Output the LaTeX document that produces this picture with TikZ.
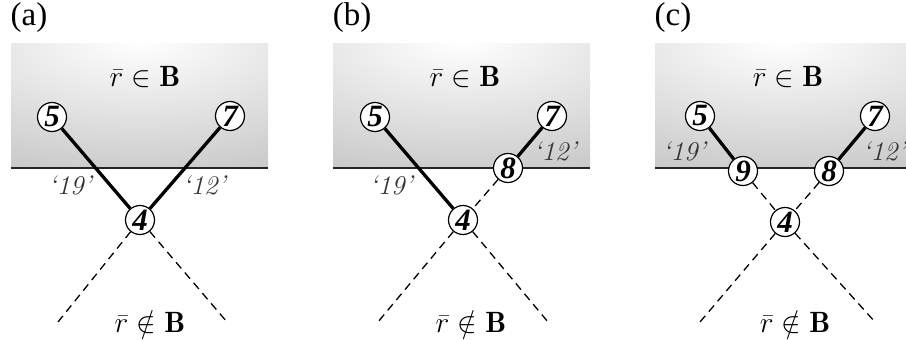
\documentclass[tikz,border=0pt]{standalone}
\usepackage{fontspec}
\newfontfamily\timesf{Liberation Serif}
\newcommand{\bigmath}[1]{\scalebox{1.18}{$#1$}}
\begin{document}
\begin{tikzpicture}[x=1pt,y=-1pt,
  nd/.style={circle,draw=black,line width=1.2pt,fill=white,inner sep=0pt,minimum size=29pt,
     font=\timesf\bfseries\itshape\fontsize{31}{31}\selectfont},
  solidln/.style={line width=3.3pt,black},
  dashln/.style={line width=1.3pt,black,dash pattern=on 8pt off 5.5pt},
  lbl/.style={font=\fontsize{27}{27}\selectfont\itshape,text=black!80},
  mathlbl/.style={font=\Huge},
  panel/.style={font=\timesf\fontsize{33}{33}\selectfont},
  edgeln/.style={line width=1.5pt,black!85}]
\useasboundingbox (0,0) rectangle (906,340);
% ---------- shaded regions
\foreach \l/\r in {11/268,333/590,655/906}{
  \begin{scope}
    \clip (\l,43) rectangle (\r,168);
    \pgfmathsetmacro{\cx}{(\l+\r)/2}
    \shade[inner color=white,outer color=black!55] (\cx,40) ellipse (800pt and 360pt);
  \end{scope}
}
% ===================== panel (a)
\node[panel] (la) at (29,18) {(a)};
\coordinate (ea1) at (11,168); \coordinate (ea2) at (268,168);
\draw[edgeln] (ea1) -- (ea2);
\node[mathlbl] (ta) at (145,77) {\bigmath{\bar{r}\in\mathbf{B}}};
\node[mathlbl] (ba) at (150,322) {\bigmath{\bar{r}\notin\mathbf{B}}};
\node[nd] (a5) at (52,117) {5};
\node[nd] (a7) at (230,116) {7};
\node[nd] (a4) at (140,220) {4};
\coordinate (aL) at (58,322); \coordinate (aR) at (227,322);
\draw[solidln] (a5) -- (a4);
\draw[solidln] (a7) -- (a4);
\draw[dashln] (a4) -- (aL);
\draw[dashln] (a4) -- (aR);
\node[lbl] (a19) at (70,185) {`19'};
\node[lbl] (a12) at (204,185) {`12'};
% ===================== panel (b)
\node[panel] (lb) at (352,18) {(b)};
\coordinate (eb1) at (333,168); \coordinate (eb2) at (590,168);
\draw[edgeln] (eb1) -- (eb2);
\node[mathlbl] (tb) at (465,77) {\bigmath{\bar{r}\in\mathbf{B}}};
\node[mathlbl] (bb) at (471,322) {\bigmath{\bar{r}\notin\mathbf{B}}};
\node[nd] (b5) at (375,117) {5};
\node[nd] (b7) at (552,116) {7};
\node[nd] (b8) at (508,168) {8};
\node[nd] (b4) at (463,220) {4};
\coordinate (bL) at (378,322); \coordinate (bR) at (548,322);
\draw[solidln] (b5) -- (b4);
\draw[solidln] (b7) -- (b8);
\draw[dashln] (b8) -- (b4);
\draw[dashln] (b4) -- (bL);
\draw[dashln] (b4) -- (bR);
\node[lbl] (b19) at (391,185) {`19'};
\node[lbl] (b12) at (555,151) {`12'};
% ===================== panel (c)
\node[panel] (lc) at (673,18) {(c)};
\coordinate (ec1) at (655,168); \coordinate (ec2) at (906,168);
\draw[edgeln] (ec1) -- (ec2);
\node[mathlbl] (tc) at (788,77) {\bigmath{\bar{r}\in\mathbf{B}}};
\node[mathlbl] (bc) at (795,322) {\bigmath{\bar{r}\notin\mathbf{B}}};
\node[nd] (c5) at (700,116) {5};
\node[nd] (c7) at (875,116) {7};
\node[nd] (c9) at (743,171) {9};
\node[nd] (c8) at (829,171) {8};
\node[nd] (c4) at (785,222) {4};
\coordinate (cL) at (700,322); \coordinate (cR) at (875,322);
\draw[solidln] (c5) -- (c9);
\draw[solidln] (c7) -- (c8);
\draw[dashln] (c9) -- (c4);
\draw[dashln] (c8) -- (c4);
\draw[dashln] (c4) -- (cL);
\draw[dashln] (c4) -- (cR);
\node[lbl] (c19) at (684,151) {`19'};
\node[lbl] (c12) at (884,151) {`12'};
\end{tikzpicture}
\end{document}
